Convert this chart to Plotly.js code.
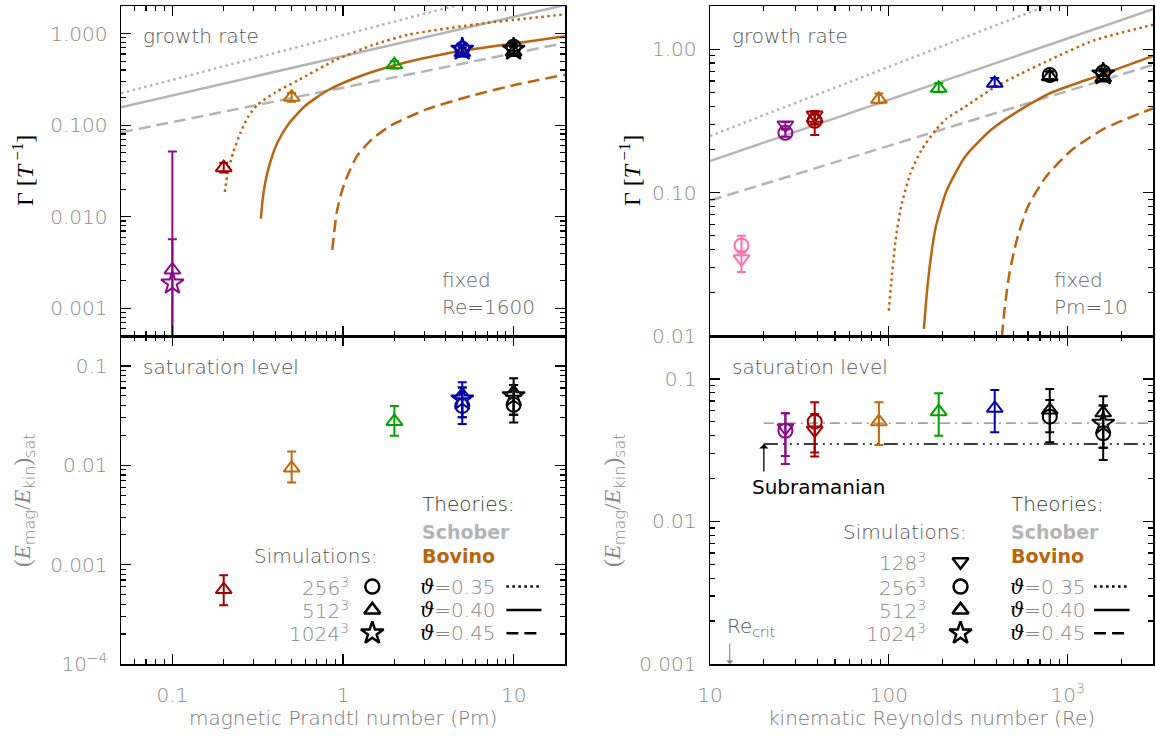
<!DOCTYPE html>
<html><head><meta charset="utf-8">
<script src="https://cdn.plot.ly/plotly-3.0.1.min.js"></script>
<style>html,body{margin:0;padding:0;background:#fff}</style>
</head><body><div id="chart" style="width:1156px;height:736px"></div>
<script>
// ---------------- colours ----------------
const PURPLE='#8a0a8a', RED='#a30000', ORANGE='#c06a0a', GREEN='#00a000', BLUE='#0000a8', BLACK='#000000', PINK='#ff6eb4';
const SCHOBER='#b4b4b4', BOVINO='#b8650d';

// ================= TOP-LEFT: growth rate vs Pm (Re=1600) =================
const tlTriPm  = [0.1, 0.2, 0.5, 2, 5, 10];
const tlTriG   = [0.00263, 0.0344, 0.202, 0.457, 0.62, 0.63];
const tlTriHi  = [0.0057, 0.039, 0.225, 0.50, 0.70, 0.72];
const tlTriLo  = [0.00001, 0.0305, 0.18, 0.415, 0.56, 0.57];
const tlTriCol = [PURPLE, RED, ORANGE, GREEN, BLUE, BLACK];
const tlCirPm  = [5, 10];
const tlCirG   = [0.684, 0.72];
const tlCirHi  = [0.76, 0.80];
const tlCirLo  = [0.62, 0.65];
const tlCirCol = [BLUE, BLACK];
const tlStarPm = [0.1, 5, 10];
const tlStarG  = [0.00188, 0.673, 0.673];
const tlStarHi = [0.0515, 0.75, 0.75];
const tlStarLo = [0.00001, 0.60, 0.60];
const tlStarCol= [PURPLE, BLUE, BLACK];

// theories (growth rate vs Pm)
const schPmDot = [0.05, 4.7],  schGDot = [0.223, 2.05];
const schPmSol = [0.05, 20],   schGSol = [0.157, 2.05];
const schPmDsh = [0.05, 20],   schGDsh = [0.0833, 0.79];
const bovPmDot = [0.203,0.211,0.227,0.251,0.277,0.314,0.403,0.543,0.896,1.48,2.43,6.6,20];
const bovGDot  = [0.0187,0.0303,0.0502,0.0833,0.122,0.166,0.229,0.308,0.510,0.745,0.976,1.29,1.62];
const bovPmSol = [0.33,0.338,0.35,0.374,0.413,0.48,0.601,0.811,1.21,1.99,4.0,9.85,20];
const bovGSol  = [0.00955,0.0154,0.0235,0.039,0.0647,0.103,0.163,0.239,0.334,0.449,0.603,0.776,0.935];
const bovPmDsh = [0.865,0.887,0.918,0.966,1.04,1.21,1.48,1.90,3.12,5.69,10.9,20];
const bovGDsh  = [0.00436,0.00665,0.011,0.0168,0.0256,0.0462,0.0704,0.0986,0.150,0.210,0.283,0.355];

// ================= BOTTOM-LEFT: saturation vs Pm =================
const blTriPm  = [0.2, 0.5, 2, 5, 10];
const blTriE   = [0.000561, 0.00937, 0.0276, 0.0512, 0.0543];
const blTriHi  = [0.000782, 0.0138, 0.0396, 0.0686, 0.0752];
const blTriLo  = [0.00039, 0.00671, 0.0198, 0.0305, 0.0322];
const blTriCol = [RED, ORANGE, GREEN, BLUE, BLACK];
const blCirPm  = [5, 10];
const blCirE   = [0.0396, 0.0406];
const blCirHi  = [0.0605, 0.0644];
const blCirLo  = [0.0261, 0.0269];
const blCirCol = [BLUE, BLACK];
const blStarPm = [5, 10];
const blStarE  = [0.0462, 0.0499];
const blStarHi = [0.0605, 0.0644];
const blStarLo = [0.0305, 0.0322];
const blStarCol= [BLUE, BLACK];

// ================= TOP-RIGHT: growth rate vs Re (Pm=10) =================
const trDnRe   = [15, 26.4, 38.5];
const trDnG    = [0.0345, 0.296, 0.347];
const trDnHi   = [0.038, 0.31, 0.37];
const trDnLo   = [0.0279, 0.275, 0.30];
const trDnCol  = [PINK, PURPLE, RED];
const trCirRe  = [15, 26.4, 38.5, 794, 1580];
const trCirG   = [0.0428, 0.261, 0.317, 0.66, 0.69];
const trCirHi  = [0.050, 0.28, 0.35, 0.70, 0.73];
const trCirLo  = [0.039, 0.245, 0.252, 0.62, 0.65];
const trCirCol = [PINK, PURPLE, RED, BLACK, BLACK];
const trTriRe  = [38.5, 88, 190, 391, 794, 1580];
const trTriG   = [0.33, 0.447, 0.533, 0.578, 0.643, 0.63];
const trTriHi  = [0.36, 0.49, 0.58, 0.63, 0.70, 0.70];
const trTriLo  = [0.30, 0.42, 0.50, 0.55, 0.61, 0.60];
const trTriCol = [RED, ORANGE, GREEN, BLUE, BLACK, BLACK];
const trStarRe = [1580];
const trStarG  = [0.67];
const trStarHi = [0.72];
const trStarLo = [0.62];
const trStarCol= [BLACK];

const schReDot = [10, 757],  schRGDot = [0.248, 2.0];
const schReSol = [10, 3000], schRGSol = [0.166, 1.9];
const schReDsh = [10, 3000], schRGDsh = [0.088, 0.777];
const bovReDot = [100,103,109,117,132,152,183,211,267,390,543,793,1400,3000];
const bovRGDot = [0.015,0.0231,0.0464,0.0794,0.136,0.198,0.273,0.329,0.397,0.542,0.672,0.842,1.15,1.48];
const bovReSol = [157,163,171,183,211,267,372,543,793,1538,3000];
const bovRGSol = [0.0112,0.0197,0.0337,0.0575,0.104,0.178,0.273,0.377,0.492,0.662,0.898];
const bovReDsh = [429,445,472,519,598,757,1054,1611,3000];
const bovRGDsh = [0.0099,0.0159,0.0271,0.0465,0.0794,0.129,0.198,0.280,0.387];

// ================= BOTTOM-RIGHT: saturation vs Re =================
const brDnRe   = [26.4, 38.5];
const brDnE    = [0.0454, 0.0438];
const brDnHi   = [0.0574, 0.0567];
const brDnLo   = [0.0288, 0.0304];
const brDnCol  = [PURPLE, RED];
const brCirRe  = [26.4, 38.5, 794, 1580];
const brCirE   = [0.0433, 0.0501, 0.0543, 0.0415];
const brCirHi  = [0.0574, 0.0686, 0.0711, 0.0652];
const brCirLo  = [0.0253, 0.0285, 0.0423, 0.027];
const brCirCol = [PURPLE, RED, BLACK, BLACK];
const brTriRe  = [88, 190, 391, 794, 1580];
const brTriE   = [0.0501, 0.0589, 0.0622, 0.0605, 0.0578];
const brTriHi  = [0.0686, 0.0793, 0.0836, 0.085, 0.0757];
const brTriLo  = [0.0344, 0.040, 0.0423, 0.036, 0.0329];
const brTriCol = [ORANGE, GREEN, BLUE, BLACK, BLACK];
const brStarRe = [1580];
const brStarE  = [0.0487];
const brStarHi = [0.0652];
const brStarLo = [0.0329];
const brStarCol= [BLACK];

const satLineRe   = [20, 3000];
const schoberSat  = [0.0489, 0.0489];
const subramSat   = [0.035, 0.035];
const subramArrowRe = 20, subramArrowTip = 0.035;
const reCrit = 12.9;

// ---------------- tick labels ----------------
const tlYVals=[0.001,0.01,0.1,1], tlYText=['0.001','0.010','0.100','1.000'];
const blYVals=[0.0001,0.001,0.01,0.1], blYText=['10<sup>−4</sup>','0.001','0.01','0.1'];
const trYVals=[0.01,0.1,1], trYText=['0.01','0.10','1.00'];
const brYVals=[0.001,0.01,0.1], brYText=['0.001','0.01','0.1'];
const pmVals=[0.1,1,10], pmText=['0.1','1','10'];
const reVals=[10,100,1000], reText=['10','100','10<sup>3</sup>'];

function minorTicks(lo, hi){ const out=[]; for(let e=lo;e<=hi;e++){ for(let d=2;d<=9;d++){ out.push(d*Math.pow(10,e)); } } return out; }

const FONT='DejaVu Sans';
const traces=[];
const SZ={'circle-open':14,'triangle-up-open':14,'triangle-down-open':14,'star-open':17};

function addPts(xs,ys,hi,lo,cols,sym,xa,ya){
  for(let i=0;i<xs.length;i++){
    traces.push({type:'scatter',mode:'markers',x:[xs[i]],y:[ys[i]],xaxis:xa,yaxis:ya,hoverinfo:'skip',
      marker:{symbol:sym,size:SZ[sym],color:cols[i],line:{width:2,color:cols[i]}},
      error_y:{type:'data',symmetric:false,array:[hi[i]-ys[i]],arrayminus:[ys[i]-lo[i]],color:cols[i],thickness:2,width:4.5}});
  }
}
function addLine(xs,ys,col,dash,xa,ya,w,shape){
  traces.push({type:'scatter',mode:'lines',x:xs,y:ys,xaxis:xa,yaxis:ya,hoverinfo:'skip',
    line:{color:col,width:w||2.5,dash:dash,shape:shape||'linear',smoothing:0.6}});
}
const DOT='2.5px,3.5px', DASH='12px,6px';

// top-left
addLine(schPmDot,schGDot,SCHOBER,DOT,'x','y');
addLine(schPmSol,schGSol,SCHOBER,'solid','x','y');
addLine(schPmDsh,schGDsh,SCHOBER,DASH,'x','y');
addLine(bovPmDot,bovGDot,BOVINO,DOT,'x','y',2.5,'spline');
addLine(bovPmSol,bovGSol,BOVINO,'solid','x','y',2.5,'spline');
addLine(bovPmDsh,bovGDsh,BOVINO,DASH,'x','y',2.5,'spline');
addPts(tlCirPm,tlCirG,tlCirHi,tlCirLo,tlCirCol,'circle-open','x','y');
addPts(tlTriPm,tlTriG,tlTriHi,tlTriLo,tlTriCol,'triangle-up-open','x','y');
addPts(tlStarPm,tlStarG,tlStarHi,tlStarLo,tlStarCol,'star-open','x','y');
// bottom-left
addPts(blCirPm,blCirE,blCirHi,blCirLo,blCirCol,'circle-open','x2','y2');
addPts(blTriPm,blTriE,blTriHi,blTriLo,blTriCol,'triangle-up-open','x2','y2');
addPts(blStarPm,blStarE,blStarHi,blStarLo,blStarCol,'star-open','x2','y2');
// top-right
addLine(schReDot,schRGDot,SCHOBER,DOT,'x3','y3');
addLine(schReSol,schRGSol,SCHOBER,'solid','x3','y3');
addLine(schReDsh,schRGDsh,SCHOBER,DASH,'x3','y3');
addLine(bovReDot,bovRGDot,BOVINO,DOT,'x3','y3',2.5,'spline');
addLine(bovReSol,bovRGSol,BOVINO,'solid','x3','y3',2.5,'spline');
addLine(bovReDsh,bovRGDsh,BOVINO,DASH,'x3','y3',2.5,'spline');
addPts(trCirRe,trCirG,trCirHi,trCirLo,trCirCol,'circle-open','x3','y3');
addPts(trDnRe,trDnG,trDnHi,trDnLo,trDnCol,'triangle-down-open','x3','y3');
addPts(trTriRe,trTriG,trTriHi,trTriLo,trTriCol,'triangle-up-open','x3','y3');
addPts(trStarRe,trStarG,trStarHi,trStarLo,trStarCol,'star-open','x3','y3');
// bottom-right
addLine(satLineRe,schoberSat,'#808080','10px,5px,2px,5px','x4','y4',1.3);
addLine(satLineRe,subramSat,BLACK,'14px,5px,2px,5px,2px,5px,2px,5px','x4','y4',1.5);
addPts(brCirRe,brCirE,brCirHi,brCirLo,brCirCol,'circle-open','x4','y4');
addPts(brDnRe,brDnE,brDnHi,brDnLo,brDnCol,'triangle-down-open','x4','y4');
addPts(brTriRe,brTriE,brTriHi,brTriLo,brTriCol,'triangle-up-open','x4','y4');
addPts(brStarRe,brStarE,brStarHi,brStarLo,brStarCol,'star-open','x4','y4');

// legend keys (overlay axes x5/y5 and x6/y6 with 0..1 ranges)
const legRowY = [0.236, 0.165, 0.094];
const legRowDash = [DOT, 'solid', DASH];
function legendKeys(xa,ya,lineX0,lineX1,symX,syms,symY){
  for(let i=0;i<3;i++){
    traces.push({type:'scatter',mode:'lines',x:[lineX0,lineX1],y:[legRowY[i],legRowY[i]],xaxis:xa,yaxis:ya,hoverinfo:'skip',line:{color:'#000',width:2.5,dash:legRowDash[i]}});
  }
  for(let i=0;i<syms.length;i++){
    traces.push({type:'scatter',mode:'markers',x:[symX],y:[symY[i]],xaxis:xa,yaxis:ya,hoverinfo:'skip',
      marker:{symbol:syms[i],size:SZ[syms[i]],color:'#000',line:{width:2.5,color:'#000'}}});
  }
}
legendKeys('x5','y5',0.868,0.947,0.566,['circle-open','triangle-up-open','star-open'],[0.236,0.165,0.094]);
legendKeys('x6','y6',0.867,0.947,0.5655,['triangle-down-open','circle-open','triangle-up-open','star-open'],[0.312,0.236,0.165,0.094]);

// ---------------- axes ----------------
const xL=[121/1156,565/1156], xR=[710/1156,1153/1156];
const yT=[1-336/736,1-6/736], yB=[1-664/736,1-336/736];
function logAxis(domain,range,vals,text,minor,labels,anchor){
  return {type:'log',domain:domain,range:range,anchor:anchor,tickmode:'array',tickvals:vals,ticktext:text,
    showticklabels:labels,ticks:'inside',ticklen:10,tickwidth:1.3,tickcolor:'#000',
    showline:true,linecolor:'#000',linewidth:1.5,mirror:'ticks',showgrid:false,zeroline:false,
    minor:{tickmode:'array',tickvals:minor,ticks:'inside',ticklen:5,tickwidth:1.2,tickcolor:'#000',showgrid:false},
    tickfont:{family:FONT,size:20,color:'#8a8a8a',weight:200},ticklabelstandoff:8,fixedrange:true};
}
const lg=Math.log10;
const layout={
  width:1156,height:736,margin:{l:0,r:0,t:0,b:0},paper_bgcolor:'#fff',plot_bgcolor:'rgba(0,0,0,0)',showlegend:false,
  font:{family:FONT,color:'#888'},
  xaxis: logAxis(xL,[lg(0.05),lg(20)],pmVals,pmText,minorTicks(-2,1),false,'y'),
  yaxis: logAxis(yT,[lg(0.0005),lg(2)],tlYVals,tlYText,minorTicks(-4,0),true,'x'),
  xaxis2:logAxis(xL,[lg(0.05),lg(20)],pmVals,pmText,minorTicks(-2,1),true,'y2'),
  yaxis2:logAxis(yB,[lg(0.0001),lg(0.2)],blYVals,blYText,minorTicks(-4,-1),true,'x2'),
  xaxis3:logAxis(xR,[1,lg(3000)],reVals,reText,minorTicks(1,3),false,'y3'),
  yaxis3:logAxis(yT,[-2,lg(2)],trYVals,trYText,minorTicks(-2,0),true,'x3'),
  xaxis4:logAxis(xR,[1,lg(3000)],reVals,reText,minorTicks(1,3),true,'y4'),
  yaxis4:logAxis(yB,[-3,lg(0.2)],brYVals,brYText,minorTicks(-3,-1),true,'x4'),
  xaxis5:{domain:xL,range:[0,1],anchor:'y5',visible:false,fixedrange:true},
  yaxis5:{domain:yB,range:[0,1],anchor:'x5',visible:false,fixedrange:true},
  xaxis6:{domain:xR,range:[0,1],anchor:'y6',visible:false,fixedrange:true},
  yaxis6:{domain:yB,range:[0,1],anchor:'x6',visible:false,fixedrange:true},
  annotations:[],
};
layout.xaxis2.ticklabelstandoff=12; layout.xaxis4.ticklabelstandoff=12;

const A=layout.annotations;
function txt(text,xref,yref,x,y,opt){
  A.push(Object.assign({text:text,xref:xref,yref:yref,x:x,y:y,showarrow:false,xanchor:'left',yanchor:'middle',
    font:{family:FONT,size:20,color:'#555',weight:200}},opt||{}));
}
const TH=(v)=>'<span style="font-family:DejaVu Serif;color:#000"><i>ϑ</i></span>='+v;
// panel labels
txt('growth rate','x domain','y domain',0.046,0.909);
txt('fixed','x domain','y domain',0.718,0.170,{font:{family:FONT,size:20,color:'#666',weight:200}});
txt('Re=1600','x domain','y domain',0.718,0.088,{font:{family:FONT,size:20,color:'#666',weight:200}});
txt('growth rate','x3 domain','y3 domain',0.0456,0.909);
txt('fixed','x3 domain','y3 domain',0.771,0.170,{font:{family:FONT,size:20,color:'#666',weight:200}});
txt('Pm=10','x3 domain','y3 domain',0.771,0.088,{font:{family:FONT,size:20,color:'#666',weight:200}});
txt('saturation level','x2 domain','y2 domain',0.046,0.906);
txt('saturation level','x4 domain','y4 domain',0.0456,0.906);
// legends
function legendText(xr,yr,thx,simx,numx,nums,numsY){
  txt('Theories:',xr,yr,thx,0.488,{font:{family:FONT,size:20,color:'#333',weight:200}});
  txt('Schober',xr,yr,thx,0.403,{font:{family:FONT,size:19,color:SCHOBER,weight:700}});
  txt('Bovino',xr,yr,thx,0.329,{font:{family:FONT,size:19,color:BOVINO,weight:700}});
  const tv=['0.35','0.40','0.45'];
  for(let i=0;i<3;i++) txt(TH(tv[i]),xr,yr,thx-0.004,legRowY[i],{font:{family:FONT,size:20,color:'#888',weight:200}});
  txt('Simulations:',xr,yr,simx[0],simx[1],{xanchor:'right',font:{family:FONT,size:20,color:'#555',weight:200}});
  for(let i=0;i<nums.length;i++) txt(nums[i]+'<sup>3</sup>',xr,yr,numx,numsY[i],{xanchor:'right',font:{family:FONT,size:20,color:'#888',weight:200}});
}
legendText('x2 domain','y2 domain',0.674,[0.584,0.329],0.5175,['256','512','1024'],[0.236,0.165,0.094]);
legendText('x4 domain','y4 domain',0.676,[0.585,0.403],0.493,['128','256','512','1024'],[0.312,0.236,0.165,0.094]);
// Subramanian
txt('Subramanian','x4 domain','y4 domain',0.091,0.541,{font:{family:FONT,size:20,color:'#000',weight:400}});
A.push({x:lg(subramArrowRe),y:lg(subramArrowTip),xref:'x4',yref:'y4',showarrow:true,ax:0,ay:29,arrowhead:1,arrowsize:1.2,arrowwidth:1.3,arrowcolor:'#000',text:''});
// Re_crit
txt('Re<sub>crit</sub>','x4 domain','y4 domain',0.033,0.114,{font:{family:FONT,size:20,color:'#555',weight:200}});
A.push({x:lg(reCrit),y:0,xref:'x4',yref:'y4 domain',showarrow:true,ax:0,ay:-22,arrowhead:1,arrowsize:1.2,arrowwidth:1,arrowcolor:'#777',text:''});
// axis titles
const gTitle='<span style="font-family:Liberation Serif">Γ [<i>T</i><sup> −1</sup>]</span>';
const eTitle='<span style="font-family:Liberation Serif">(<i>E</i></span><sub>mag</sub><span style="font-family:Liberation Serif">/<i>E</i></span><sub>kin</sub><span style="font-family:Liberation Serif">)</span><sub>sat</sub>';
A.push({text:gTitle,xref:'paper',yref:'paper',x:23/1156,y:1-171/736,textangle:-90,showarrow:false,xanchor:'center',yanchor:'middle',font:{size:24,color:'#000'}});
A.push({text:gTitle,xref:'paper',yref:'paper',x:630/1156,y:1-171/736,textangle:-90,showarrow:false,xanchor:'center',yanchor:'middle',font:{size:24,color:'#000'}});
A.push({text:eTitle,xref:'paper',yref:'paper',x:24/1156,y:1-500/736,textangle:-90,showarrow:false,xanchor:'center',yanchor:'middle',font:{family:FONT,size:23,color:'#888',weight:200}});
A.push({text:eTitle,xref:'paper',yref:'paper',x:614/1156,y:1-500/736,textangle:-90,showarrow:false,xanchor:'center',yanchor:'middle',font:{family:FONT,size:23,color:'#888',weight:200}});
A.push({text:'magnetic Prandtl number (Pm)',xref:'paper',yref:'paper',x:343/1156,y:1-718/736,showarrow:false,xanchor:'center',yanchor:'middle',font:{family:FONT,size:20,color:'#777',weight:200}});
A.push({text:'kinematic Reynolds number (Re)',xref:'paper',yref:'paper',x:931.5/1156,y:1-718/736,showarrow:false,xanchor:'center',yanchor:'middle',font:{family:FONT,size:20,color:'#777',weight:200}});

Plotly.newPlot('chart',traces,layout,{staticPlot:true,displayModeBar:false});
</script></body></html>
